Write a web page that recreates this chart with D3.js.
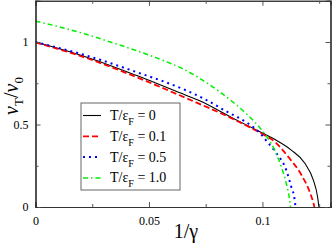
<!DOCTYPE html>
<html>
<head>
<meta charset="utf-8">
<script src="https://cdn.jsdelivr.net/npm/d3@7"></script>
<style>
  body { margin: 0; background: #fff; }
  svg { display: block; }
  text { font-family: "Liberation Serif", "DejaVu Serif", serif; }
</style>
</head>
<body>
<div id="chart"></div>
<script>
// 1/gamma vs v_T/v_0
var labels = ["0", "0.1", "0.5", "1.0"];
var colors = ["#000000", "#ff0000", "#0000ff", "#00ee00"];
var dashes = [null, "6,3", "2,4", "5,3,1.5,3"];
var widths = [1.1, 1.8, 2, 1.5];

var xT0 = [0, 0.022, 0.044, 0.066, 0.0721, 0.0868, 0.1000, 0.1054, 0.1127, 0.1187, 0.1224, 0.1243, 0.1249];
var vT0 = [1.0, 0.911, 0.80, 0.679, 0.645, 0.54, 0.448, 0.41, 0.345, 0.265, 0.164, 0.062, 0];

var xT01 = [0, 0.022, 0.044, 0.066, 0.088, 0.0996, 0.1054, 0.1113, 0.1172, 0.1208, 0.1227, 0.1229];
var vT01 = [0.997, 0.905, 0.79, 0.662, 0.527, 0.445, 0.396, 0.305, 0.194, 0.093, 0.012, 0];

var xT05 = [0, 0.022, 0.044, 0.066, 0.0737, 0.0847, 0.0927, 0.0996, 0.1018, 0.1062, 0.1105, 0.1127, 0.1141, 0.1146];
var vT05 = [1.0, 0.92, 0.82, 0.709, 0.66, 0.575, 0.515, 0.438, 0.40, 0.325, 0.224, 0.123, 0.053, 0];

var xT10 = [0, 0.011, 0.022, 0.033, 0.044, 0.055, 0.066, 0.0729, 0.081, 0.0868, 0.0927, 0.0978, 0.1022, 0.1054, 0.1083, 0.1105, 0.1120, 0.1124];
var vT10 = [1.127, 1.09, 1.048, 1.0, 0.95, 0.895, 0.83, 0.775, 0.70, 0.638, 0.568, 0.497, 0.42, 0.345, 0.244, 0.144, 0.042, 0];

var xTicks = [0, 0.05, 0.1];
var xMinor = [0.025, 0.075, 0.125];
var yTicks = [0, 0.5, 1];
var yMinor = [0.25, 0.75];

var W = 332, H = 243;
var svg = d3.select("#chart").append("svg").attr("width", W).attr("height", H);

var x = d3.scaleLinear().domain([0, 0.13]).range([35.5, 330.5]);
var y = d3.scaleLinear().domain([0, 1.25]).range([207, 0.75]);

var series = [
    {x: xT0, v: vT0},
    {x: xT01, v: vT01},
    {x: xT05, v: vT05},
    {x: xT10, v: vT10}
];

//curves
var line = d3.line()
    .x(function(d){ return x(d[0]); })
    .y(function(d){ return y(d[1]); })
    .curve(d3.curveMonotoneX);

var plot = svg.append("g");
series.forEach(function(s, i){
    var pts = d3.zip(s.x, s.v);
    plot.append("path")
        .attr("d", line(pts))
        .attr("fill", "none")
        .attr("stroke", colors[i])
        .attr("stroke-width", widths[i])
        .attr("stroke-dasharray", dashes[i]);
});

//axes, ticks pointing inward on all four sides
var fmt = function(d){ return d === 0 ? "0" : d3.format("")(d); };
svg.append("g").attr("transform", "translate(0,207)")
    .call(d3.axisBottom(x).tickValues(xTicks).tickSize(-5).tickPadding(9).tickFormat(fmt));
svg.append("g").attr("transform", "translate(0,207)")
    .call(d3.axisBottom(x).tickValues(xMinor).tickSize(-3).tickFormat(""));
svg.append("g").attr("transform", "translate(0,0.75)")
    .call(d3.axisTop(x).tickValues(xTicks).tickSize(-5).tickFormat(""));
svg.append("g").attr("transform", "translate(0,0.75)")
    .call(d3.axisTop(x).tickValues(xMinor).tickSize(-3).tickFormat(""));
svg.append("g").attr("transform", "translate(35.5,0)")
    .call(d3.axisLeft(y).tickValues(yTicks).tickSize(-5).tickPadding(7).tickFormat(fmt));
svg.append("g").attr("transform", "translate(35.5,0)")
    .call(d3.axisLeft(y).tickValues(yMinor).tickSize(-3).tickFormat(""));
svg.append("g").attr("transform", "translate(330.5,0)")
    .call(d3.axisRight(y).tickValues(yTicks).tickSize(-5).tickFormat(""));
svg.append("g").attr("transform", "translate(330.5,0)")
    .call(d3.axisRight(y).tickValues(yMinor).tickSize(-3).tickFormat(""));

svg.selectAll(".domain").attr("stroke", "#333").attr("stroke-width", 1.2);
svg.selectAll(".tick line").attr("stroke", "#555");
svg.selectAll(".tick text")
    .attr("font-family", "Liberation Serif")
    .attr("font-size", 12)
    .attr("fill", "#000");

// axis titles
svg.append("text")
    .attr("x", 186).attr("y", 238)
    .attr("text-anchor", "middle")
    .attr("font-size", 20)
    .text("1/\u03b3");

var yl = svg.append("text")
    .attr("transform", "translate(18,96) rotate(-90)")
    .attr("text-anchor", "middle")
    .attr("font-size", 20);
yl.append("tspan").attr("font-style", "italic").text("v");
yl.append("tspan").attr("font-size", 13).attr("dy", 5).text("T");
yl.append("tspan").attr("dy", -5).text("/");
yl.append("tspan").attr("font-style", "italic").text("v");
yl.append("tspan").attr("font-size", 13).attr("dy", 5).text("0");

//legend
var legend = svg.append("g");
legend.append("rect")
    .attr("x", 81).attr("y", 103)
    .attr("width", 99).attr("height", 87)
    .attr("fill", "#fff")
    .attr("stroke", "#666")
    .attr("stroke-width", 1);

labels.forEach(function(lab, i){
    var ly = 115.5 + i * 20.8;
    legend.append("line")
        .attr("x1", 83).attr("x2", 101)
        .attr("y1", ly).attr("y2", ly)
        .attr("stroke", colors[i])
        .attr("stroke-width", widths[i])
        .attr("stroke-dasharray", dashes[i]);
    var t = legend.append("text")
        .attr("x", 110).attr("y", ly + 4.5)
        .attr("font-size", 14);
    t.append("tspan").text("T/\u03b5");
    t.append("tspan").attr("font-size", 10).attr("dy", 5).text("F");
    t.append("tspan").attr("dy", -5).text(" = " + lab);
});
</script>
</body>
</html>
